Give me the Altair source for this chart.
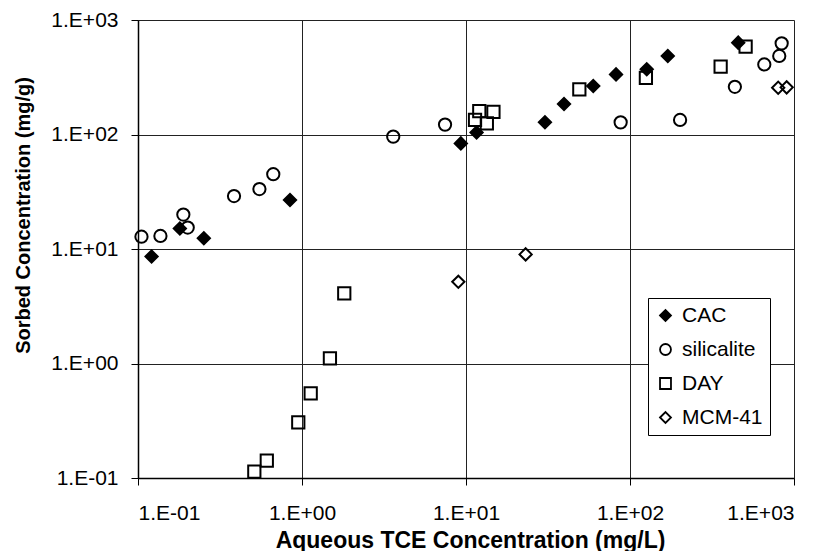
import altair as alt
import pandas as pd

series_names = ["CAC", "silicalite", "DAY", "MCM-41"]

cac_x = [0.121, 0.18, 0.252, 0.845, 9.3, 11.6, 30.3, 39.6, 59.7, 82.2, 126.5, 170, 457]
cac_y = [8.6, 15.1, 12.4, 26.8, 83.6, 104, 127.8, 184.5, 265, 335, 371, 485, 634]

sil_x = [0.105, 0.137, 0.189, 0.201, 0.385, 0.55, 0.668, 3.6, 7.45, 87.7, 202, 436, 659, 813, 841]
sil_y = [12.8, 13.0, 20.0, 15.4, 29, 33.4, 45, 95.8, 122, 127.7, 134, 261, 409, 485, 625]

day_x = [0.512, 0.61, 0.949, 1.13, 1.48, 1.81, 11.35, 12.05, 13.4, 14.7, 49.1, 125, 357, 507]
day_y = [0.1135, 0.1416, 0.306, 0.548, 1.11, 4.09, 134, 160, 125, 158, 248, 313, 391, 584]

mcm_x = [8.98, 23.1, 801, 902]
mcm_y = [5.17, 8.97, 256, 258]

tick_values = [0.1, 1, 10, 100, 1000]

rows = []
for name, xs, ys in [("CAC", cac_x, cac_y), ("silicalite", sil_x, sil_y),
                     ("DAY", day_x, day_y), ("MCM-41", mcm_x, mcm_y)]:
    for xv, yv in zip(xs, ys):
        rows.append({"series": name, "x": xv, "y": yv})
df = pd.DataFrame(rows)

FONT = "Liberation Sans"
label_expr = ("datum.value >= 1 ? '1.E+0' + format(log(datum.value)/LN10, '.0f') "
              ": '1.E-0' + format(-log(datum.value)/LN10, '.0f')")

common_axis = dict(
    values=tick_values, labelExpr=label_expr, grid=True,
    gridColor="#222222", gridOpacity=1, gridWidth=1,
    domainColor="black", domainWidth=1.5, tickColor="black", tickSize=7, tickWidth=1,
    labelFont=FONT, labelFontSize=21, labelColor="black",
    titleFont=FONT, titleFontWeight="bold", titleColor="black",
)

legend_kw = dict(
    title=None, orient="none", legendX=510, legendY=278,
    strokeColor="black", fillColor="white", padding=7,
    labelFont=FONT, labelFontSize=21, labelColor="black", labelOffset=6,
    symbolSize=120, symbolStrokeWidth=1.8, symbolStrokeColor="black",
    rowPadding=12,
)

chart = alt.Chart(df).mark_point(filled=False, strokeWidth=2, size=150, opacity=1).encode(
    x=alt.X("x:Q", scale=alt.Scale(type="log", domain=[0.1, 1000]),
            axis=alt.Axis(title="Aqueous TCE Concentration (mg/L)", labelPadding=17,
                          titleFontSize=23, titleX=332, titleY=69,
                          titleBaseline="alphabetic", titleAlign="center", **common_axis)),
    y=alt.Y("y:Q", scale=alt.Scale(type="log", domain=[0.1, 1000]),
            axis=alt.Axis(title="Sorbed Concentration (mg/g)", labelPadding=13,
                          titleFontSize=20, titleX=-115, titleY=195, titleAngle=270,
                          titleBaseline="middle", titleAlign="center", **common_axis)),
    shape=alt.Shape("series:N", sort=series_names,
                    scale=alt.Scale(domain=series_names, range=["diamond", "circle", "square", "diamond"]),
                    legend=alt.Legend(**legend_kw)),
    fill=alt.Fill("series:N", sort=series_names,
                  scale=alt.Scale(domain=series_names, range=["black", "transparent", "transparent", "transparent"]),
                  legend=alt.Legend(**legend_kw)),
    stroke=alt.Stroke("series:N", sort=series_names,
                      scale=alt.Scale(domain=series_names, range=["black", "black", "black", "black"]),
                      legend=alt.Legend(**legend_kw)),
).properties(
    width=656, height=458,
    autosize=alt.AutoSizeParams(type="none"),
    padding={"left": 130, "top": 12, "right": 30, "bottom": 73},
).configure_view(stroke="black", strokeWidth=1.5).configure(background="white")

chart.save("out.html", embed_options={"renderer": "svg", "actions": False})
